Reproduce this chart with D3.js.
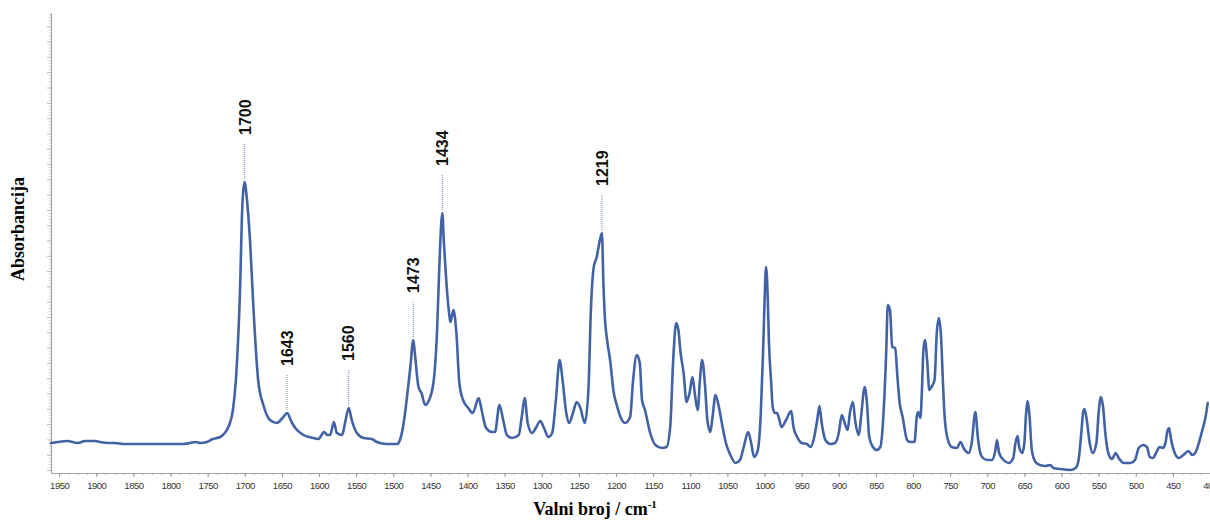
<!DOCTYPE html>
<html>
<head>
<meta charset="utf-8">
<script src="https://cdn.jsdelivr.net/npm/d3@7"></script>
<style>
  body { margin: 0; background: #fff; }
  svg { display: block; }
</style>
</head>
<body>
<svg id="chart" width="1210" height="522"></svg>
<script>
// IR spectrum: wavenumber (cm-1) and absorbance, listed from high to low wavenumber
const wavenumbers = [
  1961,1952,1939,1925,1915,1902,1895,1884,1875,1863,
  1828,1783,1774,1766,1760,1751,1743,1733,1727,1721,
  1716,1712,1709,1706,1704,1702,1700,1698,1693,1688,
  1682,1675,1666,1657,1648,1643,1637,1632,1621,1608,
  1601,1593,1589,1585,1580,1576,1569,1565,1560,1556,
  1549,1540,1529,1522,1509,1495,1491,1486,1482,1477,
  1473,1471,1466,1462,1457,1453,1446,1441,1438,1434,
  1432,1428,1424,1423,1419,1415,1411,1406,1399,1393,
  1385,1381,1375,1367,1363,1357,1352,1347,1340,1331,
  1327,1323,1319,1313,1308,1302,1297,1291,1286,1281,
  1276,1272,1267,1263,1258,1253,1248,1242,1237,1234,
  1230,1226,1222,1219,1217,1215,1212,1208,1203,1199,
  1194,1188,1181,1177,1172,1168,1165,1161,1154,1147,
  1138,1132,1127,1123,1119,1116,1113,1109,1105,1101,
  1097,1094,1090,1087,1084,1080,1077,1073,1070,1066,
  1062,1057,1052,1046,1039,1033,1028,1022,1018,1014,
  1009,1005,1002,1000,998,996,994,991,989,986,
  983,981,977,971,964,961,956,950,943,938,
  934,929,926,923,918,911,905,900,896,892,
  888,885,881,878,873,870,865,862,859,854,
  849,844,840,836,834,831,828,824,821,818,
  814,808,804,798,795,793,790,788,786,784,
  781,778,776,771,768,765,762,760,758,754,
  748,741,736,732,725,721,716,713,711,707,
  700,694,689,687,684,678,671,665,662,659,
  657,653,650,648,646,643,640,635,629,622,
  615,611,602,588,581,577,573,571,569,566,
  562,558,553,550,547,544,541,537,532,527,
  523,516,507,501,496,490,485,481,477,472,
  468,463,460,457,455,453,449,442,436,429,
  424,420,415,411,406,403
];

const absorbance = [
  .030,.031,.032,.030,.032,.032,.031,.030,.030,.029,
  .029,.029,.030,.031,.030,.031,.034,.036,.040,.048,
  .063,.093,.133,.193,.253,.283,.291,.280,.233,.160,
  .093,.068,.053,.050,.056,.060,.051,.045,.038,.035,
  .034,.041,.038,.038,.051,.040,.038,.050,.065,.053,
  .040,.035,.034,.031,.029,.029,.033,.050,.073,.106,
  .133,.120,.086,.080,.068,.071,.090,.143,.206,.260,
  .233,.186,.155,.151,.163,.140,.090,.073,.065,.060,
  .075,.063,.045,.041,.041,.068,.053,.038,.035,.038,
  .056,.075,.050,.040,.045,.052,.045,.036,.040,.073,
  .113,.093,.060,.050,.060,.071,.065,.050,.086,.160,
  .206,.216,.232,.240,.190,.155,.133,.113,.080,.068,
  .056,.050,.056,.093,.118,.110,.073,.063,.040,.028,
  .025,.026,.046,.113,.150,.143,.120,.100,.071,.080,
  .096,.080,.063,.093,.113,.086,.053,.041,.056,.078,
  .068,.048,.030,.018,.010,.013,.026,.041,.030,.016,
  .023,.060,.120,.170,.206,.183,.130,.090,.066,.060,
  .060,.056,.046,.053,.062,.046,.036,.030,.029,.026,
  .033,.053,.067,.050,.033,.029,.030,.040,.058,.050,
  .043,.060,.071,.053,.038,.056,.086,.070,.036,.026,
  .023,.026,.056,.123,.168,.163,.126,.125,.096,.070,
  .056,.033,.031,.031,.056,.061,.055,.083,.123,.133,
  .113,.083,.085,.093,.140,.155,.133,.096,.063,.036,
  .026,.025,.031,.025,.020,.030,.061,.038,.026,.016,
  .013,.013,.023,.033,.020,.013,.010,.015,.030,.037,
  .026,.020,.030,.056,.072,.056,.023,.011,.008,.007,
  .008,.005,.004,.003,.005,.013,.043,.060,.064,.053,
  .030,.020,.030,.060,.076,.066,.040,.020,.014,.020,
  .015,.010,.010,.013,.025,.028,.026,.016,.015,.021,
  .026,.025,.030,.043,.045,.036,.023,.015,.018,.022,
  .018,.020,.030,.041,.056,.070
];

// annotated band positions (cm-1)
const peakLabels = [1700, 1643, 1560, 1473, 1434, 1219];

// wavenumber axis labels
const xTickLabels = [1950,1900,1850,1800,1750,1700,1650,1600,1550,1500,1450,1400,
  1350,1300,1250,1200,1150,1100,1050,1000,950,900,850,800,750,700,650,600,550,500,450,400];

const xTitle = "Valni broj / cm";
const xTitleSup = "-1";
const yTitle = "Absorbancija";

const svg = d3.select("#chart");
const plot = { left: 51, right: 1210, top: 13, bottom: 473 };

const x = d3.scaleLinear().domain([1961, 400]).range([plot.left, plot.right]);
const y = d3.scaleLinear().domain([0, 0.46]).range([plot.bottom, plot.top]);

const spectrum = wavenumbers.map((w, i) => [w, absorbance[i]]);

// ---- axes ----
const axisColor = "#a3a3a3";

// minor wavenumber ticks
const xMinor = svg.append("g")
  .attr("transform", `translate(0,${plot.bottom})`)
  .call(d3.axisBottom(x).tickValues(d3.range(1950, 399, -12.5)).tickSize(2).tickFormat(""));
xMinor.select(".domain").remove();
xMinor.selectAll("line").attr("stroke", "#b5b5b5");

const xAxis = svg.append("g")
  .attr("transform", `translate(0,${plot.bottom})`)
  .call(d3.axisBottom(x).tickValues(xTickLabels).tickSize(4).tickSizeOuter(0).tickFormat(d3.format("d")));
xAxis.select(".domain").attr("stroke", axisColor).attr("stroke-width", 1.2);
xAxis.selectAll(".tick line").attr("stroke", "#9a9a9a");
xAxis.selectAll(".tick text")
  .attr("y", 9)
  .attr("dy", "0.71em")
  .attr("fill", "#333")
  .style("font-family", "'Liberation Sans', Arial, sans-serif")
  .style("font-size", "9.5px")
  .style("letter-spacing", "-0.5px");

// absorbance axis: unlabeled ticks only
const yMajorVals = d3.range(0.003, 0.461, 0.0153);
const yMinorVals = d3.range(0.003, 0.461, 0.0153 / 5);
const yMinor = svg.append("g")
  .attr("transform", `translate(${plot.left},0)`)
  .call(d3.axisLeft(y).tickValues(yMinorVals).tickSize(2).tickFormat(""));
yMinor.select(".domain").remove();
yMinor.selectAll("line").attr("stroke", "#d0d0d0");

const yAxis = svg.append("g")
  .attr("transform", `translate(${plot.left},0)`)
  .call(d3.axisLeft(y).tickValues(yMajorVals).tickSize(4).tickSizeOuter(0).tickFormat(""));
yAxis.select(".domain").attr("stroke", axisColor).attr("stroke-width", 1.2);
yAxis.selectAll(".tick line").attr("stroke", "#bdbdbd");

// ---- spectrum line ----
const line = d3.line()
  .x(d => x(d[0]))
  .y(d => y(d[1]))
  .curve(d3.curveMonotoneX);

svg.append("path")
  .datum(spectrum)
  .attr("d", line)
  .attr("fill", "none")
  .attr("stroke", "#4262a6")
  .attr("stroke-width", 2.6)
  .attr("stroke-linejoin", "round")
  .attr("stroke-linecap", "round");

// ---- band annotations ----
const bands = svg.append("g");
peakLabels.forEach(p => {
  const i = wavenumbers.indexOf(p);
  const px = x(p);
  const py = y(absorbance[i]);
  bands.append("line")
    .attr("x1", px).attr("x2", px)
    .attr("y1", py - 3).attr("y2", py - 38)
    .attr("stroke", "#6f8cc4")
    .attr("stroke-width", 1)
    .attr("stroke-dasharray", "1,1");
  bands.append("text")
    .attr("transform", `translate(${px},${py - 47}) rotate(-90)`)
    .attr("dy", "0.36em")
    .attr("text-anchor", "start")
    .attr("fill", "#111")
    .style("font-family", "'Liberation Sans', Arial, sans-serif")
    .style("font-weight", "bold")
    .style("font-size", "16px")
    .text(p);
});

// ---- axis titles ----
svg.append("text")
  .attr("transform", `translate(24,229) rotate(-90)`)
  .attr("text-anchor", "middle")
  .style("font-family", "'Liberation Serif', 'Times New Roman', serif")
  .style("font-weight", "bold")
  .style("font-size", "18px")
  .attr("fill", "#000")
  .text(yTitle);

const xt = svg.append("text")
  .attr("x", 595)
  .attr("y", 515)
  .attr("text-anchor", "middle")
  .style("font-family", "'Liberation Serif', 'Times New Roman', serif")
  .style("font-weight", "bold")
  .style("font-size", "18px")
  .attr("fill", "#000");
xt.append("tspan").text(xTitle);
xt.append("tspan").attr("dy", -7).style("font-size", "11px").text(xTitleSup);
</script>
</body>
</html>
